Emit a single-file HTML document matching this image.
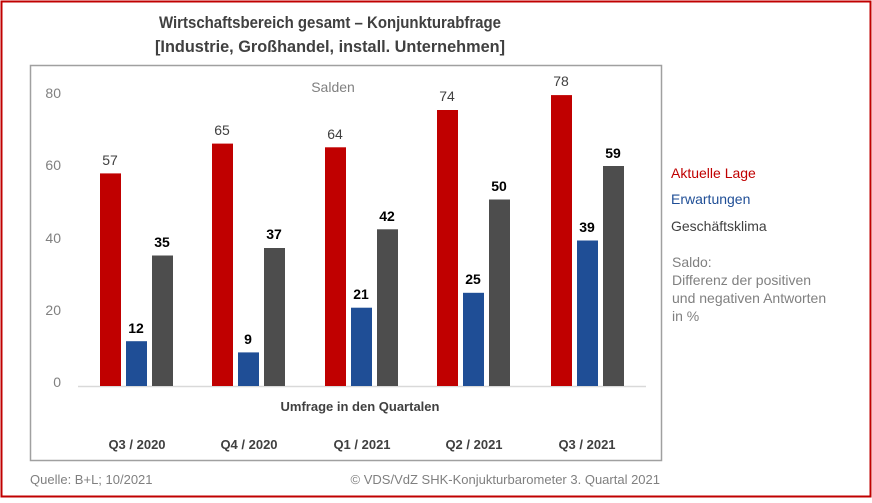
<!DOCTYPE html><html><head><meta charset="utf-8"><style>
body{margin:0;background:#fff;font-family:"Liberation Sans",sans-serif}
</style></head><body>
<svg width="872" height="498" viewBox="0 0 872 498" xmlns="http://www.w3.org/2000/svg" font-family="Liberation Sans, sans-serif">
<rect x="1.5" y="1.5" width="869" height="495" fill="#fff" stroke="#c00000" stroke-width="2"/>
<text x="330" y="28" text-anchor="middle" font-size="17" font-weight="bold" fill="#404040" textLength="342" lengthAdjust="spacingAndGlyphs">Wirtschaftsbereich gesamt – Konjunkturabfrage</text>
<text x="330" y="52" text-anchor="middle" font-size="17" font-weight="bold" fill="#404040" textLength="350" lengthAdjust="spacingAndGlyphs">[Industrie, Großhandel, install. Unternehmen]</text>
<rect x="30.5" y="65.5" width="631" height="395" fill="none" stroke="#a0a0a0" stroke-width="1.5"/>
<text x="333" y="92" text-anchor="middle" font-size="14" fill="#808080">Salden</text>
<g font-size="14" fill="#808080" text-anchor="end">
<text x="61" y="98">80</text><text x="61" y="170">60</text><text x="61" y="243">40</text><text x="61" y="315">20</text><text x="61" y="387">0</text>
</g>
<line x1="78" y1="386.5" x2="646" y2="386.5" stroke="#d9d9d9" stroke-width="1.5"/>
<g id="bars"></g>
<text x="360" y="411" text-anchor="middle" font-size="13" font-weight="bold" fill="#404040">Umfrage in den Quartalen</text>
<g font-size="13" font-weight="bold" fill="#404040" text-anchor="middle">
<text x="137" y="449">Q3 / 2020</text><text x="249" y="449">Q4 / 2020</text><text x="362" y="449">Q1 / 2021</text><text x="474" y="449">Q2 / 2021</text><text x="587" y="449">Q3 / 2021</text>
</g>
<text x="30" y="484" font-size="13" fill="#808080">Quelle: B+L; 10/2021</text>
<text x="660" y="484" text-anchor="end" font-size="13" fill="#808080">© VDS/VdZ SHK-Konjukturbarometer 3. Quartal 2021</text>
<text x="671" y="178" font-size="14" fill="#c00000">Aktuelle Lage</text>
<text x="671" y="204" font-size="14" fill="#1f4e96">Erwartungen</text>
<text x="671" y="231" font-size="14" fill="#404040">Geschäftsklima</text>
<g font-size="14" fill="#808080">
<text x="672" y="267">Saldo:</text><text x="672" y="285">Differenz der positiven</text><text x="672" y="303">und negativen Antworten</text><text x="672" y="321">in %</text>
</g>
<g>
<!-- k=3.73, base 386 -->
<rect x="100" y="173.4" width="21" height="212.6" fill="#c00000"/>
<rect x="126" y="341.2" width="21" height="44.8" fill="#1f4e96"/>
<rect x="152" y="255.5" width="21" height="130.5" fill="#4d4d4d"/>
<rect x="212" y="143.6" width="21" height="242.4" fill="#c00000"/>
<rect x="238" y="352.4" width="21" height="33.6" fill="#1f4e96"/>
<rect x="264" y="248" width="21" height="138" fill="#4d4d4d"/>
<rect x="325" y="147.3" width="21" height="238.7" fill="#c00000"/>
<rect x="351" y="307.7" width="21" height="78.3" fill="#1f4e96"/>
<rect x="377" y="229.3" width="21" height="156.7" fill="#4d4d4d"/>
<rect x="437" y="110" width="21" height="276" fill="#c00000"/>
<rect x="463" y="292.8" width="21" height="93.2" fill="#1f4e96"/>
<rect x="489" y="199.5" width="21" height="186.5" fill="#4d4d4d"/>
<rect x="551" y="95.1" width="21" height="290.9" fill="#c00000"/>
<rect x="577" y="240.5" width="21" height="145.5" fill="#1f4e96"/>
<rect x="603" y="166" width="21" height="220" fill="#4d4d4d"/>
</g>
<g font-size="14" text-anchor="middle">
<g fill="#404040">
<text x="110" y="165">57</text><text x="222" y="135">65</text><text x="335" y="139">64</text><text x="447" y="101">74</text><text x="561" y="86">78</text>
</g>
<g fill="#000" font-weight="bold">
<text x="136" y="333">12</text><text x="248" y="344">9</text><text x="361" y="299">21</text><text x="473" y="284">25</text><text x="587" y="232">39</text>
<text x="162" y="247">35</text><text x="274" y="239">37</text><text x="387" y="221">42</text><text x="499" y="191">50</text><text x="613" y="158">59</text>
</g>
</g>
</svg>
</body></html>
